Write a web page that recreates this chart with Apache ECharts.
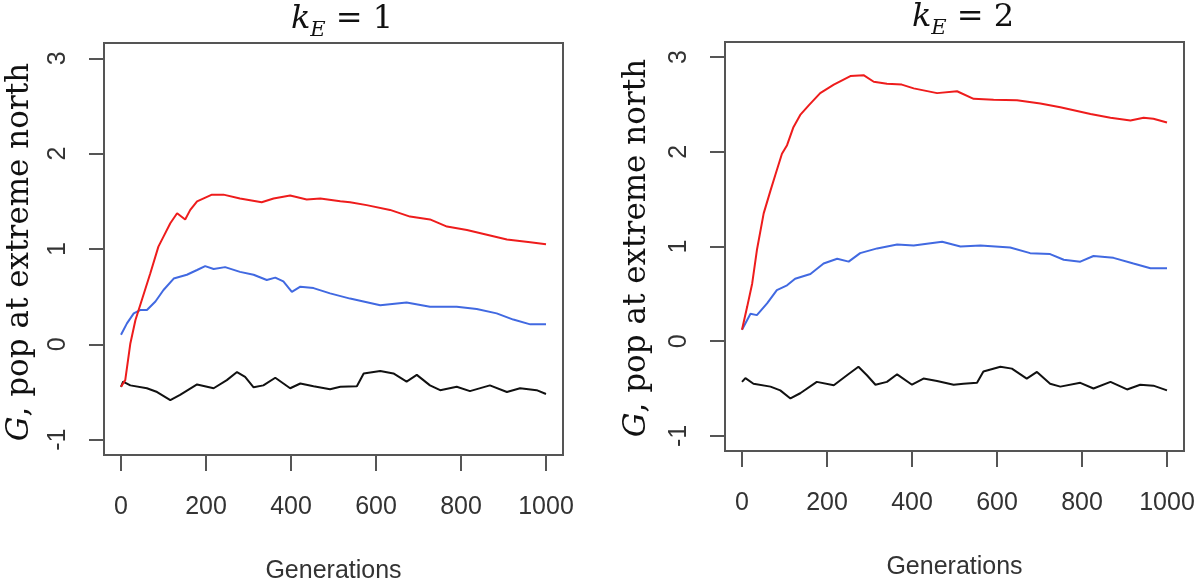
<!DOCTYPE html>
<html><head><meta charset="utf-8">
<script src="https://cdn.jsdelivr.net/npm/echarts@6/dist/echarts.min.js"></script>
<style>html,body{margin:0;padding:0;background:#fff}#c{width:1200px;height:583px}</style>
</head><body><div id="c"></div>
<script>
// tick labels
const xTicks = [0, 200, 400, 600, 800, 1000];
const yTicks = [-1, 0, 1, 2, 3];
const panelK = ['1', '2'];
const xName = 'Generations';
const yName = '{g|G}{t|, pop at extreme north}';

// k_E = 1 panel  [generation, G]
const red1 = [[0,-0.445],[10,-0.375],[22,0.01],[34,0.255],[49,0.465],[69,0.745],[88,1.025],[100,1.13],[116,1.27],[132,1.375],[151,1.31],[163,1.41],[179,1.50],[214,1.57],[241,1.57],[280,1.53],[331,1.49],[359,1.53],[398,1.56],[437,1.52],[469,1.53],[516,1.50],[539,1.49],[578,1.46],[633,1.41],[680,1.34],[727,1.31],[767,1.235],[814,1.20],[861,1.15],[908,1.10],[963,1.07],[1000,1.05]];
const blue1 = [[0,0.10],[14,0.22],[30,0.325],[45,0.36],[61,0.36],[81,0.45],[100,0.57],[124,0.69],[155,0.73],[179,0.78],[198,0.82],[218,0.79],[245,0.81],[280,0.76],[312,0.73],[343,0.675],[363,0.70],[382,0.66],[402,0.55],[422,0.605],[453,0.59],[492,0.535],[539,0.48],[610,0.41],[672,0.44],[727,0.395],[790,0.395],[837,0.37],[884,0.325],[923,0.26],[963,0.21],[1000,0.21]];
const black1 = [[0,-0.445],[5,-0.39],[22,-0.43],[61,-0.46],[85,-0.50],[116,-0.585],[139,-0.53],[179,-0.42],[218,-0.46],[249,-0.375],[273,-0.29],[292,-0.34],[312,-0.45],[335,-0.43],[363,-0.35],[398,-0.46],[422,-0.41],[453,-0.44],[492,-0.47],[516,-0.445],[555,-0.44],[571,-0.305],[610,-0.28],[641,-0.305],[672,-0.39],[696,-0.32],[727,-0.43],[751,-0.48],[790,-0.445],[821,-0.49],[868,-0.43],[908,-0.50],[939,-0.46],[978,-0.48],[1000,-0.52]];

// k_E = 2 panel
const red2 = [[0,0.12],[12,0.36],[24,0.61],[35,0.96],[51,1.35],[67,1.59],[78,1.75],[94,1.98],[106,2.07],[121,2.26],[137,2.39],[157,2.49],[184,2.62],[216,2.71],[255,2.80],[286,2.81],[310,2.74],[341,2.72],[376,2.71],[404,2.67],[459,2.62],[506,2.64],[545,2.56],[592,2.55],[647,2.545],[702,2.51],[749,2.47],[820,2.40],[867,2.36],[914,2.33],[945,2.36],[968,2.35],[1000,2.31]];
const blue2 = [[0,0.12],[20,0.29],[35,0.275],[59,0.40],[82,0.54],[106,0.59],[125,0.66],[161,0.71],[192,0.82],[224,0.87],[251,0.84],[278,0.93],[318,0.98],[365,1.02],[404,1.01],[435,1.03],[471,1.05],[514,1.00],[561,1.01],[631,0.99],[678,0.93],[725,0.92],[757,0.86],[796,0.84],[827,0.90],[874,0.88],[921,0.82],[961,0.77],[1000,0.77]];
const black2 = [[0,-0.43],[8,-0.39],[27,-0.45],[67,-0.48],[90,-0.52],[114,-0.605],[137,-0.55],[176,-0.43],[216,-0.465],[247,-0.36],[274,-0.27],[294,-0.36],[314,-0.46],[341,-0.43],[365,-0.35],[400,-0.46],[427,-0.395],[459,-0.42],[498,-0.46],[521,-0.45],[553,-0.44],[568,-0.32],[608,-0.27],[635,-0.29],[670,-0.395],[694,-0.325],[725,-0.45],[749,-0.48],[796,-0.44],[827,-0.50],[867,-0.43],[906,-0.51],[937,-0.46],[968,-0.47],[1000,-0.52]];

const grids = [
  {left: 104, top: 43, width: 459, height: 412},
  {left: 725, top: 42, width: 459, height: 409}
];
const SANS = '"Liberation Sans", Arial, sans-serif';
const SERIF = '"DejaVu Serif", "Liberation Serif", serif';
const tickColor = '#555';

function xAx(i){
  return {gridIndex:i, type:'value', min:-40, max:1040,
    name: xName, nameLocation:'middle', nameGap:104, nameMoveOverlap:false,
    nameTextStyle:{fontFamily:SANS, fontSize:25, color:'#333', verticalAlign:'top'},
    axisLine:{show:false, onZero:false},
    axisTick:{show:true, length:16, inside:false, customValues:xTicks, lineStyle:{color:tickColor, width:2}},
    axisLabel:{customValues:xTicks, margin:40, fontFamily:SANS, fontSize:25, color:'#333', formatter: v => String(v)},
    splitLine:{show:false}};
}
function yAx(i){
  return {gridIndex:i, type:'value', min:-1.16, max:3.16,
    axisLine:{show:false, onZero:false},
    axisTick:{show:true, length:15, inside:false, customValues:yTicks, lineStyle:{color:tickColor, width:2}},
    axisLabel:{customValues:yTicks, rotate:90, margin:33, fontFamily:SANS, fontSize:25, color:'#333', formatter: v => String(v)},
    splitLine:{show:false}};
}
function yLabel(cx, cy){
  return {type:'text', x:cx, y:cy, rotation:Math.PI/2, silent:true,
    style:{text:yName, align:'center', verticalAlign:'middle', fill:'#111',
      font:'31px "DejaVu Serif", serif',
      rich:{
        g:{fontFamily:SERIF, fontStyle:'italic', fontSize:31, fill:'#111', color:'#111'},
        t:{fontFamily:SERIF, fontStyle:'normal', fontSize:31, fill:'#111', color:'#111'}
      }}};
}
function ln(name, data, color, i){
  return {name, type:'line', xAxisIndex:i, yAxisIndex:i, data, showSymbol:false, symbol:'none',
    lineStyle:{color, width:2}, itemStyle:{color}, animation:false, z:3};
}
function ttl(k, cx, top){
  return {text: '{k|k}{sub|E}{eq| = ' + k + '}', left: cx, top: top, textAlign:'center',
    textStyle:{fontWeight:'normal', rich:{
      k:{fontFamily:SERIF, fontStyle:'italic', fontWeight:'normal', fontSize:32, color:'#111', lineHeight:42, verticalAlign:'middle'},
      sub:{fontFamily:SERIF, fontStyle:'italic', fontWeight:'normal', fontSize:21, color:'#111', lineHeight:23, verticalAlign:'bottom'},
      eq:{fontFamily:SERIF, fontWeight:'normal', fontSize:32, color:'#111', lineHeight:42, verticalAlign:'middle'}
    }}};
}

const chart = echarts.init(document.getElementById('c'), null, {renderer:'canvas'});
chart.setOption({
  animation:false,
  backgroundColor:'#fff',
  title:[ttl(panelK[0], 337, -6), ttl(panelK[1], 958, -8)],
  grid: grids.map(g => Object.assign({show:true, borderColor:'#555', borderWidth:2, backgroundColor:'transparent', containLabel:false, outerBoundsMode:'none'}, g)),
  xAxis:[xAx(0), xAx(1)],
  yAxis:[yAx(0), yAx(1)],
  graphic:[yLabel(20, 252), yLabel(637, 248)],
  series:[
    ln('black k=1', black1, '#111111', 0),
    ln('blue k=1', blue1, '#4169e1', 0),
    ln('red k=1', red1, '#ee1c1c', 0),
    ln('black k=2', black2, '#111111', 1),
    ln('blue k=2', blue2, '#4169e1', 1),
    ln('red k=2', red2, '#ee1c1c', 1)
  ]
});
</script></body></html>
